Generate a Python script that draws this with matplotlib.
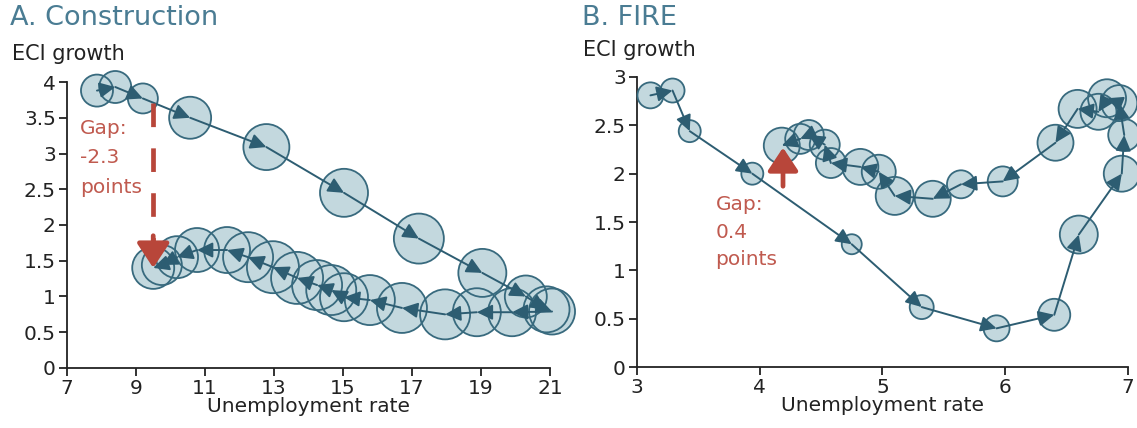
import numpy as np
import matplotlib
matplotlib.use("Agg")
import matplotlib.pyplot as plt

# %% data
# construction: unemployment rate, ECI growth, bubble weight (path in time order)
con_unemp = [7.87, 8.40, 9.20, 10.57, 12.78, 15.03, 17.20, 19.04, 20.30, 20.90, 21.06,
             19.90, 18.88, 17.96, 16.71, 15.78, 15.03, 14.66, 14.25, 13.67, 12.97,
             12.25, 11.64, 10.77, 10.19, 9.75, 9.50]
con_eci = [3.88, 3.93, 3.77, 3.50, 3.09, 2.45, 1.81, 1.33, 1.00, 0.82, 0.79,
           0.78, 0.78, 0.75, 0.84, 0.95, 0.99, 1.09, 1.16, 1.26, 1.41,
           1.55, 1.65, 1.65, 1.55, 1.44, 1.40]
con_weight = [16, 16, 15, 21, 23, 24, 25, 24, 21, 23, 23,
              24, 24, 25, 25, 25, 24, 25, 25, 26, 26,
              25, 23, 22, 21, 20, 21]

# FIRE: unemployment rate, ECI growth, bubble weight
fire_unemp = [3.11, 3.29, 3.43, 3.94, 4.75, 5.32, 5.93, 6.40, 6.60, 6.95, 6.97,
              6.93, 6.83, 6.76, 6.59, 6.41, 5.98, 5.64, 5.41, 5.10, 4.97,
              4.82, 4.58, 4.53, 4.40, 4.33, 4.18]
fire_eci = [2.81, 2.86, 2.44, 2.00, 1.27, 0.62, 0.40, 0.54, 1.37, 2.00, 2.40,
            2.73, 2.78, 2.64, 2.67, 2.32, 1.92, 1.89, 1.74, 1.77, 2.02,
            2.07, 2.11, 2.30, 2.40, 2.36, 2.29]
fire_weight = [13, 12, 11, 11, 10, 12, 13, 16, 19, 18, 16,
               18, 19, 18, 19, 18, 15, 14, 18, 19, 17,
               18, 15, 15, 15, 15, 18]

# gap annotations: (x, from, to)
con_gap = (9.50, 3.71, 1.40)
fire_gap = (4.19, 1.87, 2.27)

# %% styles
DPI = 100
fill_col = '#c3d8de'
edge_col = '#386a7e'
path_col = '#2d5d72'
red = '#b8463a'
red_txt = '#c05a4f'
title_col = '#4a7c93'
FS = 14.5


def bubble_area(w):
    # radius in pixels -> scatter area in points^2
    return (2 * np.asarray(w) * 72.0 / DPI) ** 2


def draw_path(ax, xs, ys, ws):
    s = bubble_area(ws)
    ax.scatter(xs, ys, s=s, color=fill_col, edgecolors='none', zorder=2, clip_on=False)
    ax.scatter(xs, ys, s=s, facecolors='none', edgecolors=edge_col, linewidths=1.3,
               zorder=3, clip_on=False)
    for i in range(len(xs) - 1):
        ax.annotate('', xy=(xs[i + 1], ys[i + 1]), xytext=(xs[i], ys[i]),
                    arrowprops=dict(arrowstyle='-|>,head_length=0.45,head_width=0.22',
                                    color=path_col, lw=1.4, shrinkA=0, shrinkB=0,
                                    mutation_scale=21),
                    zorder=4, annotation_clip=False)


def style_axes(ax):
    for side in ['top', 'right']:
        ax.spines[side].set_visible(False)
    for side in ['left', 'bottom']:
        ax.spines[side].set_linewidth(1.3)
        ax.spines[side].set_color('#222222')
    ax.tick_params(direction='out', length=6, width=1.3, labelsize=FS,
                   colors='#222222', pad=2)
    ax.set_xlabel('Unemployment rate', fontsize=FS, color='#222222', labelpad=-1)


fig = plt.figure(figsize=(11.37, 4.28), dpi=DPI)

# %% panel A
ax1 = fig.add_axes([0.0589, 0.1402, 0.4248, 0.6682])
draw_path(ax1, con_unemp, con_eci, con_weight)
ax1.set_xlim(7, 21)
ax1.set_ylim(0, 4)
ax1.set_xticks(np.arange(7, 22, 2))
ax1.set_yticks(np.arange(0, 4.01, 0.5))
ax1.set_yticklabels(['0', '0.5', '1', '1.5', '2', '2.5', '3', '3.5', '4'])
style_axes(ax1)

gx, gy0, gy1 = con_gap
ax1.plot([gx, gx], [gy0, gy1 + 0.3], color=red, lw=3.4, dashes=(5, 4.5), zorder=5)
ax1.annotate('', xy=(gx, gy1), xytext=(gx, gy1 + 0.45),
             arrowprops=dict(arrowstyle='-|>,head_length=0.5,head_width=0.33',
                             color=red, lw=3.4, shrinkA=0, shrinkB=0, mutation_scale=30),
             zorder=5)
ax1.text(7.38, 3.48, 'Gap:\n-2.3\npoints', color=red_txt, fontsize=FS,
         va='top', ha='left', linespacing=1.68, zorder=6)

fig.text(10 / 1137, 1 - 18 / 428, 'A. Construction', color=title_col, fontsize=19.5,
         va='center', ha='left')
fig.text(12 / 1137, 1 - 54 / 428, 'ECI growth', color='#222222', fontsize=15,
         va='center', ha='left')

# %% panel B
ax2 = fig.add_axes([0.5602, 0.1425, 0.4318, 0.6776])
draw_path(ax2, fire_unemp, fire_eci, fire_weight)
ax2.set_xlim(3, 7)
ax2.set_ylim(0, 3)
ax2.set_xticks(np.arange(3, 8, 1))
ax2.set_yticks(np.arange(0, 3.01, 0.5))
ax2.set_yticklabels(['0', '0.5', '1', '1.5', '2', '2.5', '3'])
style_axes(ax2)

gx, gy0, gy1 = fire_gap
ax2.annotate('', xy=(gx, gy1), xytext=(gx, gy0),
             arrowprops=dict(arrowstyle='-|>,head_length=0.5,head_width=0.33',
                             color=red, lw=3.4, shrinkA=0, shrinkB=0, mutation_scale=28),
             zorder=5)
ax2.text(3.64, 1.78, 'Gap:\n0.4\npoints', color=red_txt, fontsize=FS,
         va='top', ha='left', linespacing=1.58, zorder=6)

fig.text(582 / 1137, 1 - 18 / 428, 'B. FIRE', color=title_col, fontsize=19.5,
         va='center', ha='left')
fig.text(583 / 1137, 1 - 50 / 428, 'ECI growth', color='#222222', fontsize=15,
         va='center', ha='left')

fig.savefig('out.png', dpi=DPI)
